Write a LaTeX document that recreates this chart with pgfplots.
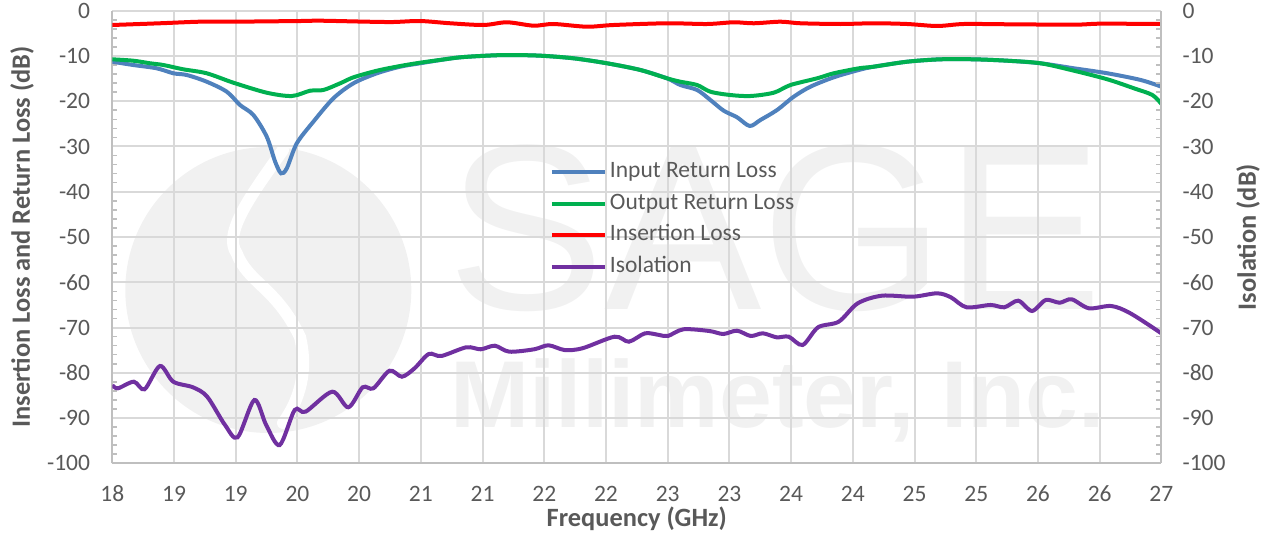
\documentclass[border=0pt]{standalone}
\usepackage{fontspec}
\setmainfont{Carlito}
\newfontfamily\wmfont{Liberation Sans}
\usepackage{pgfplots}
\pgfplotsset{compat=1.18}
\definecolor{ticktext}{HTML}{595959}
\definecolor{gridgray}{HTML}{D9D9D9}
\definecolor{axisgray}{HTML}{BFBFBF}
\definecolor{wm}{RGB}{241,241,241}
\definecolor{cblue}{RGB}{79,129,189}
\definecolor{cgreen}{HTML}{00B050}
\definecolor{cred}{HTML}{FF0000}
\definecolor{cpurple}{HTML}{7030A0}
\newcommand{\tickfont}{\fontsize{11.75bp}{14bp}\selectfont}
\newcommand{\labfont}{\fontsize{13.2bp}{16bp}\selectfont\bfseries}
\begin{document}
\begin{tikzpicture}
\path[use as bounding box] (-56.15bp,-35.85bp) rectangle (577.85bp,231.65bp);
% watermark
\fill[wm] (78bp,86.65bp) circle (71.5bp);
\draw[white,line width=6bp,line cap=round] (85.35bp,156.65bp) .. controls (70bp,135bp) and (55bp,115bp) .. (62.2bp,105bp) .. controls (68bp,90bp) and (82bp,88bp) .. (93.85bp,63.15bp) .. controls (97bp,50bp) and (96bp,35bp) .. (85.35bp,20.15bp);
\node[wm,font=\wmfont\fontsize{118bp}{120bp}\selectfont,anchor=base,inner sep=0] at (331.35bp,76.65bp) {SAGE};
\node[wm,font=\wmfont\bfseries\fontsize{47.5bp}{50bp}\selectfont,anchor=base,inner sep=0] at (332.6bp,18.15bp) {Millimeter, Inc.};
\begin{axis}[
  at={(0,0)}, anchor=south west,
  scale only axis, width=524.55bp, height=226.3bp,
  xmin=18, xmax=27, ymin=-100, ymax=0,
  axis x line*=bottom, axis y line*=left,
  axis line style={-, draw=axisgray, line width=1bp},
  xtick={18,18.5294,19.0588,19.5882,20.1176,20.6471,21.1765,21.7059,22.2353,22.7647,23.2941,23.8235,24.3529,24.8824,25.4118,25.9412,26.4706,27},
  xticklabels={18,19,19,20,20,21,21,22,22,23,23,24,24,25,25,26,26,27},
  ytick={-100,-90,-80,-70,-60,-50,-40,-30,-20,-10,0},
  yticklabels={-100,-90,-80,-70,-60,-50,-40,-30,-20,-10,0},
  minor x tick num=4, minor y tick num=4,
  tick align=inside, major tick length=0pt, minor tick length=2.5bp,
  tick style={draw=axisgray, line width=0.8bp},
  grid=major, major grid style={draw=gridgray, line width=1bp},
  ticklabel style={font=\tickfont, text=ticktext},
  xticklabel style={yshift=-7.8bp},
  yticklabel style={xshift=-7.6bp},
  xlabel={Frequency (GHz)}, ylabel={Insertion Loss and Return Loss (dB)},
  label style={font=\labfont, text=ticktext},
  xlabel style={at={(axis description cs:0.5,-0.1231)}, anchor=center},
  ylabel style={at={(axis description cs:-0.0861,0.5)}, anchor=center},
  legend style={draw=none, fill=none, inner sep=0pt, outer sep=0pt,
    at={(axis description cs:0.4172,0.6664)}, anchor=north west,
    font=\tickfont, text=ticktext, row sep=5.3bp, column sep=0pt,
    nodes={inner sep=0pt, text height=8bp, text depth=2.5bp}},
  legend cell align=left,
  legend image code/.code={\draw[#1] (0bp,0bp) -- (26.5bp,0bp); \path (28bp,0bp);},
  every axis plot/.append style={line width=2bp, smooth, tension=0.5},
]
\addplot[cblue] coordinates {(18,-11.27) (18.180,-12.00) (18.381,-12.73) (18.524,-13.83) (18.639,-14.21) (18.810,-15.69) (18.982,-17.90) (19.096,-20.84) (19.210,-23.04) (19.325,-27.84) (19.397,-33.36) (19.448,-35.93) (19.497,-34.82) (19.583,-29.30) (19.725,-24.52) (19.897,-19.35) (20.069,-16.04) (20.270,-13.83) (20.470,-12.37) (20.641,-11.62) (20.871,-10.67) (20.985,-10.30) (21.157,-10.01) (21.386,-9.79) (21.672,-9.94) (21.957,-10.52) (22.244,-11.62) (22.530,-13.10) (22.759,-14.94) (22.873,-16.42) (23.017,-17.52) (23.131,-19.73) (23.245,-22.09) (23.360,-23.55) (23.468,-25.47) (23.560,-24.15) (23.703,-21.94) (23.846,-19.00) (23.989,-16.79) (24.189,-14.72) (24.404,-13.10) (24.533,-12.37) (24.819,-11.27) (25.105,-10.74) (25.391,-10.74) (25.678,-11.05) (25.964,-11.62) (26.250,-12.73) (26.537,-13.83) (26.823,-15.31) (27,-16.79)};
\addlegendentry{Input Return Loss}
\addplot[cgreen] coordinates {(18,-10.74) (18.180,-11.05) (18.324,-11.62) (18.438,-12.00) (18.609,-12.95) (18.810,-13.83) (19.039,-15.91) (19.325,-18.12) (19.540,-18.85) (19.697,-17.68) (19.811,-17.52) (19.955,-16.04) (20.069,-14.72) (20.270,-13.26) (20.470,-12.22) (20.641,-11.49) (20.871,-10.67) (20.985,-10.30) (21.157,-10.01) (21.386,-9.79) (21.672,-9.94) (21.957,-10.52) (22.244,-11.62) (22.530,-13.10) (22.759,-14.94) (22.873,-15.69) (23.017,-16.42) (23.131,-17.90) (23.302,-18.63) (23.474,-18.85) (23.674,-18.12) (23.818,-16.42) (24.047,-14.94) (24.189,-13.83) (24.404,-12.73) (24.533,-12.37) (24.819,-11.27) (25.105,-10.74) (25.391,-10.74) (25.678,-11.05) (25.964,-11.62) (26.250,-13.26) (26.537,-15.16) (26.765,-17.15) (26.923,-18.63) (27,-20.61)};
\addlegendentry{Output Return Loss}
\addplot[cred] coordinates {(18,-3.16) (18.409,-2.78) (18.753,-2.43) (19.036,-2.43) (19.611,-2.28) (19.783,-2.21) (20.184,-2.43) (20.410,-2.50) (20.641,-2.28) (20.899,-2.78) (21.185,-3.16) (21.386,-2.56) (21.614,-3.31) (21.786,-2.94) (22.072,-3.54) (22.301,-3.16) (22.759,-2.78) (23.103,-2.94) (23.331,-2.56) (23.503,-2.78) (23.732,-2.43) (23.904,-2.78) (24.247,-2.94) (24.533,-2.78) (24.819,-2.94) (25.077,-3.38) (25.305,-2.94) (25.678,-3.00) (26.250,-3.09) (26.481,-2.87) (27,-2.94)};
\addlegendentry{Insertion Loss}
\addplot[cpurple] coordinates {(18,-82.70) (18.048,-83.43) (18.185,-81.97) (18.277,-83.65) (18.409,-78.50) (18.523,-81.97) (18.692,-83.21) (18.814,-85.28) (18.967,-91.54) (19.075,-94.26) (19.219,-86.01) (19.320,-91.54) (19.436,-95.96) (19.565,-88.22) (19.658,-88.60) (19.887,-84.18) (20.025,-87.63) (20.148,-83.21) (20.240,-83.43) (20.378,-79.54) (20.485,-80.87) (20.593,-79.01) (20.715,-75.85) (20.823,-76.29) (21.037,-74.37) (21.160,-74.81) (21.282,-74.02) (21.405,-75.34) (21.619,-74.81) (21.742,-73.93) (21.880,-74.97) (22.033,-74.59) (22.309,-72.03) (22.432,-73.13) (22.570,-71.28) (22.692,-71.65) (22.767,-71.87) (22.900,-70.39) (23.122,-70.77) (23.241,-71.43) (23.359,-70.70) (23.477,-71.87) (23.581,-71.28) (23.699,-72.16) (23.803,-72.03) (23.922,-73.86) (24.055,-69.95) (24.232,-68.71) (24.395,-64.65) (24.602,-62.97) (24.868,-63.19) (25.076,-62.44) (25.194,-63.32) (25.328,-65.53) (25.535,-65.02) (25.653,-65.53) (25.772,-64.07) (25.890,-66.35) (26.008,-63.92) (26.127,-64.52) (26.230,-63.76) (26.378,-65.75) (26.571,-65.25) (26.734,-66.86) (27,-71.28)};
\addlegendentry{Isolation}
\end{axis}
\begin{axis}[
  at={(0,0)}, anchor=south west,
  scale only axis, width=524.55bp, height=226.3bp,
  xmin=18, xmax=27, ymin=-100, ymax=0,
  axis x line=none, axis y line*=right,
  axis line style={-, draw=axisgray, line width=1bp},
  ytick={-100,-90,-80,-70,-60,-50,-40,-30,-20,-10,0},
  yticklabels={-100,-90,-80,-70,-60,-50,-40,-30,-20,-10,0},
  minor y tick num=4,
  tick align=inside, major tick length=0pt, minor tick length=2.5bp,
  tick style={draw=axisgray, line width=0.8bp},
  ticklabel style={font=\tickfont, text=ticktext},
  yticklabel style={xshift=7.1bp},
  ylabel={Isolation (dB)},
  label style={font=\labfont, text=ticktext},
  ylabel style={at={(axis description cs:1.0826,0.5)}, anchor=center},
]
\addplot[draw=none] coordinates {(18,-50)};
\end{axis}
\end{tikzpicture}
\end{document}
